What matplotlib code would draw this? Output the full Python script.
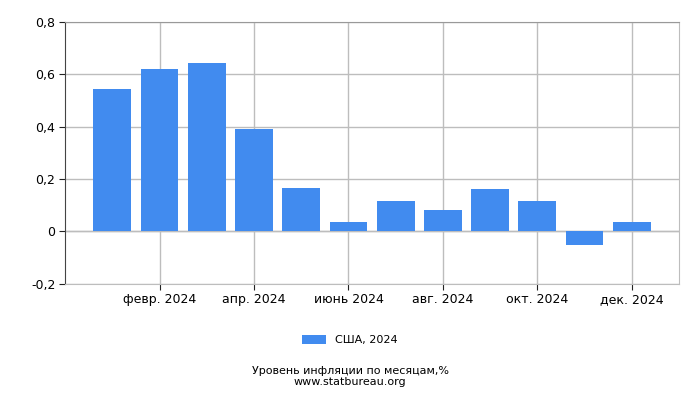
import matplotlib
matplotlib.use("Agg")
from matplotlib import pyplot as plt

months = ["янв. 2024", "февр. 2024", "март 2024", "апр. 2024", "май 2024", "июнь 2024",
          "июль 2024", "авг. 2024", "сент. 2024", "окт. 2024", "нояб. 2024", "дек. 2024"]
values = [0.545, 0.62, 0.645, 0.39, 0.165, 0.034, 0.115, 0.08, 0.16, 0.115, -0.053, 0.034]
yticks = [-0.2, 0, 0.2, 0.4, 0.6, 0.8]
ylabels = ["-0,2", "0", "0,2", "0,4", "0,6", "0,8"]

plt.rcParams['font.family'] = ['DejaVu Sans']
fig = plt.figure(figsize=(7, 4), dpi=100)
ax = fig.add_axes([0.093, 0.291, 0.877, 0.654])

x = list(range(len(values)))
ax.bar(x, values, width=0.8, color='#418bef', label='США, 2024', zorder=3)

ax.set_xlim(-1, 12)
ax.set_ylim(-0.2, 0.8)
ax.set_xticks(x[1::2])
ax.set_xticklabels(months[1::2], fontsize=9)
ax.set_yticks(yticks)
ax.set_yticklabels(ylabels, fontsize=9)
ax.grid(True, color='#bdbdbd', linewidth=1, zorder=0)
ax.axhline(0, color='#bdbdbd', linewidth=1, zorder=1)
for s in ['top', 'right', 'bottom']:
    ax.spines[s].set_color('#bdbdbd')
ax.spines['top'].set_color('#999999')
ax.spines['left'].set_color('#444444')
ax.tick_params(axis='both', length=4, color='#222222', pad=3)
ax.tick_params(axis='x', pad=3)

fig.legend(loc='center', bbox_to_anchor=(0.5, 0.15), frameon=False, fontsize=8,
           handlelength=2.2, handleheight=0.9)
fig.text(0.5, 0.073, "Уровень инфляции по месяцам,%", ha='center', va='center', fontsize=8)
fig.text(0.5, 0.046, "www.statbureau.org", ha='center', va='center', fontsize=8)

plt.savefig("out.png", dpi=100)
